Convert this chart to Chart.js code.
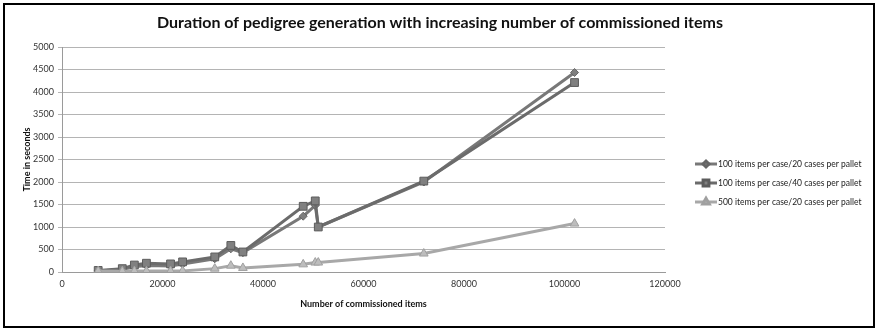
<!DOCTYPE html>
<html>
<head>
<meta charset="utf-8">
<title>Duration of pedigree generation</title>
<script src="https://cdn.jsdelivr.net/npm/chart.js@4.4.1/dist/chart.umd.min.js"></script>
<style>
  html, body { margin: 0; padding: 0; background: #ffffff; }
  canvas { display: block; }
</style>
</head>
<body>
<canvas id="chart" width="878" height="331"></canvas>
<script>
// Number of commissioned items per run (x values, shared by all series)
const commissionedItems = [7200, 12000, 14400, 16800, 21600, 24000, 30400, 33600, 36000, 48000, 50400, 51000, 72000, 102000];

// Time in seconds for each configuration
const case100Pallet20 = [25, 55, 115, 145, 135, 175, 295, 515, 430, 1240, 1480, 1000, 2000, 4433];
const case100Pallet40 = [35, 75, 155, 195, 180, 225, 335, 590, 445, 1460, 1580, 1000, 2020, 4210];
const case500Pallet20 = [20, 15, 20, 20, 20, 25, 75, 140, 90, 170, 210, 210, 410, 1076];

const seriesLabels = [
  '100 items per case/20 cases per pallet',
  '100 items per case/40 cases per pallet',
  '500 items per case/20 cases per pallet'
];

const yTicks = [0, 500, 1000, 1500, 2000, 2500, 3000, 3500, 4000, 4500, 5000];
const xTicks = [0, 20000, 40000, 60000, 80000, 100000, 120000];

const chartTitle = 'Duration of pedigree generation with increasing number of commissioned items';
const xTitle = 'Number of commissioned items';
const yTitle = 'Time in seconds';

const FONT = 'Lato, "Open Sans", sans-serif';

function toPoints(values) {
  return values.map((v, i) => ({ x: commissionedItems[i], y: v }));
}

// Frame, title and legend drawn around the plot
const decorations = {
  id: 'decorations',
  beforeDraw(chart) {
    const ctx = chart.ctx;
    ctx.save();
    ctx.fillStyle = '#ffffff';
    ctx.fillRect(0, 0, chart.width, chart.height);
    ctx.restore();
  },
  afterDraw(chart) {
    const ctx = chart.ctx;
    ctx.save();
    // outer frame
    ctx.strokeStyle = '#000000';
    ctx.lineWidth = 2;
    ctx.strokeRect(4, 4, chart.width - 8, chart.height - 8);

    // title
    ctx.fillStyle = '#111111';
    ctx.font = 'bold 16px ' + FONT;
    ctx.textAlign = 'center';
    ctx.textBaseline = 'middle';
    ctx.fillText(chartTitle, 440, 23);

    // legend
    const rows = [164, 183, 202];
    chart.data.datasets.forEach((ds, i) => {
      const y = rows[i];
      ctx.strokeStyle = ds.borderColor;
      ctx.lineWidth = 3;
      ctx.beginPath();
      ctx.moveTo(695, y);
      ctx.lineTo(717, y);
      ctx.stroke();
      ctx.fillStyle = ds.pointBackgroundColor;
      ctx.strokeStyle = ds.pointBorderColor;
      Chart.helpers.drawPoint(ctx, {
        pointStyle: ds.pointStyle,
        radius: ds.pointRadius * 0.75,
        borderWidth: 1,
        rotation: 0
      }, 706, y);
      ctx.fillStyle = '#222222';
      ctx.font = '8.5px ' + FONT;
      ctx.textAlign = 'left';
      ctx.textBaseline = 'middle';
      ctx.fillText(ds.label, 718, y + 0.5);
    });
    ctx.restore();
  }
};

new Chart(document.getElementById('chart'), {
  type: 'scatter',
  data: {
    datasets: [
      {
        label: seriesLabels[0],
        data: toPoints(case100Pallet20),
        showLine: true,
        borderColor: '#787878',
        borderWidth: 3,
        pointStyle: 'rectRot',
        pointRadius: 4,
        pointBackgroundColor: '#7e7e7e',
        pointBorderColor: '#666666',
        pointBorderWidth: 1,
        order: 3
      },
      {
        label: seriesLabels[1],
        data: toPoints(case100Pallet40),
        showLine: true,
        borderColor: '#6b6b6b',
        borderWidth: 3,
        pointStyle: 'rect',
        pointRadius: 5.5,
        pointBackgroundColor: '#808080',
        pointBorderColor: '#5c5c5c',
        pointBorderWidth: 1,
        order: 2
      },
      {
        label: seriesLabels[2],
        data: toPoints(case500Pallet20),
        showLine: true,
        borderColor: '#a8a8a8',
        borderWidth: 3,
        pointStyle: 'triangle',
        pointRadius: 5,
        pointBackgroundColor: '#bdbdbd',
        pointBorderColor: '#a0a0a0',
        pointBorderWidth: 1,
        order: 1
      }
    ]
  },
  options: {
    responsive: false,
    animation: false,
    devicePixelRatio: 1,
    layout: { padding: { left: 18, right: 213, top: 47, bottom: 20 } },
    plugins: {
      legend: { display: false },
      title: { display: false },
      tooltip: { enabled: false }
    },
    elements: { line: { tension: 0 } },
    scales: {
      x: {
        type: 'linear',
        min: 0,
        max: 120000,
        afterBuildTicks(scale) { scale.ticks = xTicks.map(v => ({ value: v })); },
        afterFit(scale) { scale.height = 39; },
        grid: { display: false, drawTicks: false },
        border: { display: true, color: '#9a9a9a', width: 1 },
        ticks: {
          padding: 7,
          maxRotation: 0,
          color: '#333333',
          font: { family: FONT, size: 9 },
          callback: v => String(v)
        },
        title: {
          display: true,
          text: xTitle,
          color: '#111111',
          font: { family: FONT, size: 9, weight: 'bold' },
          padding: { top: 0, bottom: 2 }
        }
      },
      y: {
        type: 'linear',
        min: 0,
        max: 5000,
        afterBuildTicks(scale) { scale.ticks = yTicks.map(v => ({ value: v })); },
        afterFit(scale) { scale.width = 44; },
        grid: { color: '#b4b4b4', lineWidth: 1, tickLength: 4, drawTicks: true },
        border: { display: true, color: '#9a9a9a', width: 1 },
        ticks: {
          padding: 4,
          color: '#333333',
          font: { family: FONT, size: 9 },
          callback: v => String(v)
        },
        title: {
          display: true,
          text: yTitle,
          color: '#111111',
          font: { family: FONT, size: 9, weight: 'bold' },
          padding: { top: 4, bottom: 0 }
        }
      }
    }
  },
  plugins: [decorations]
});
</script>
</body>
</html>
